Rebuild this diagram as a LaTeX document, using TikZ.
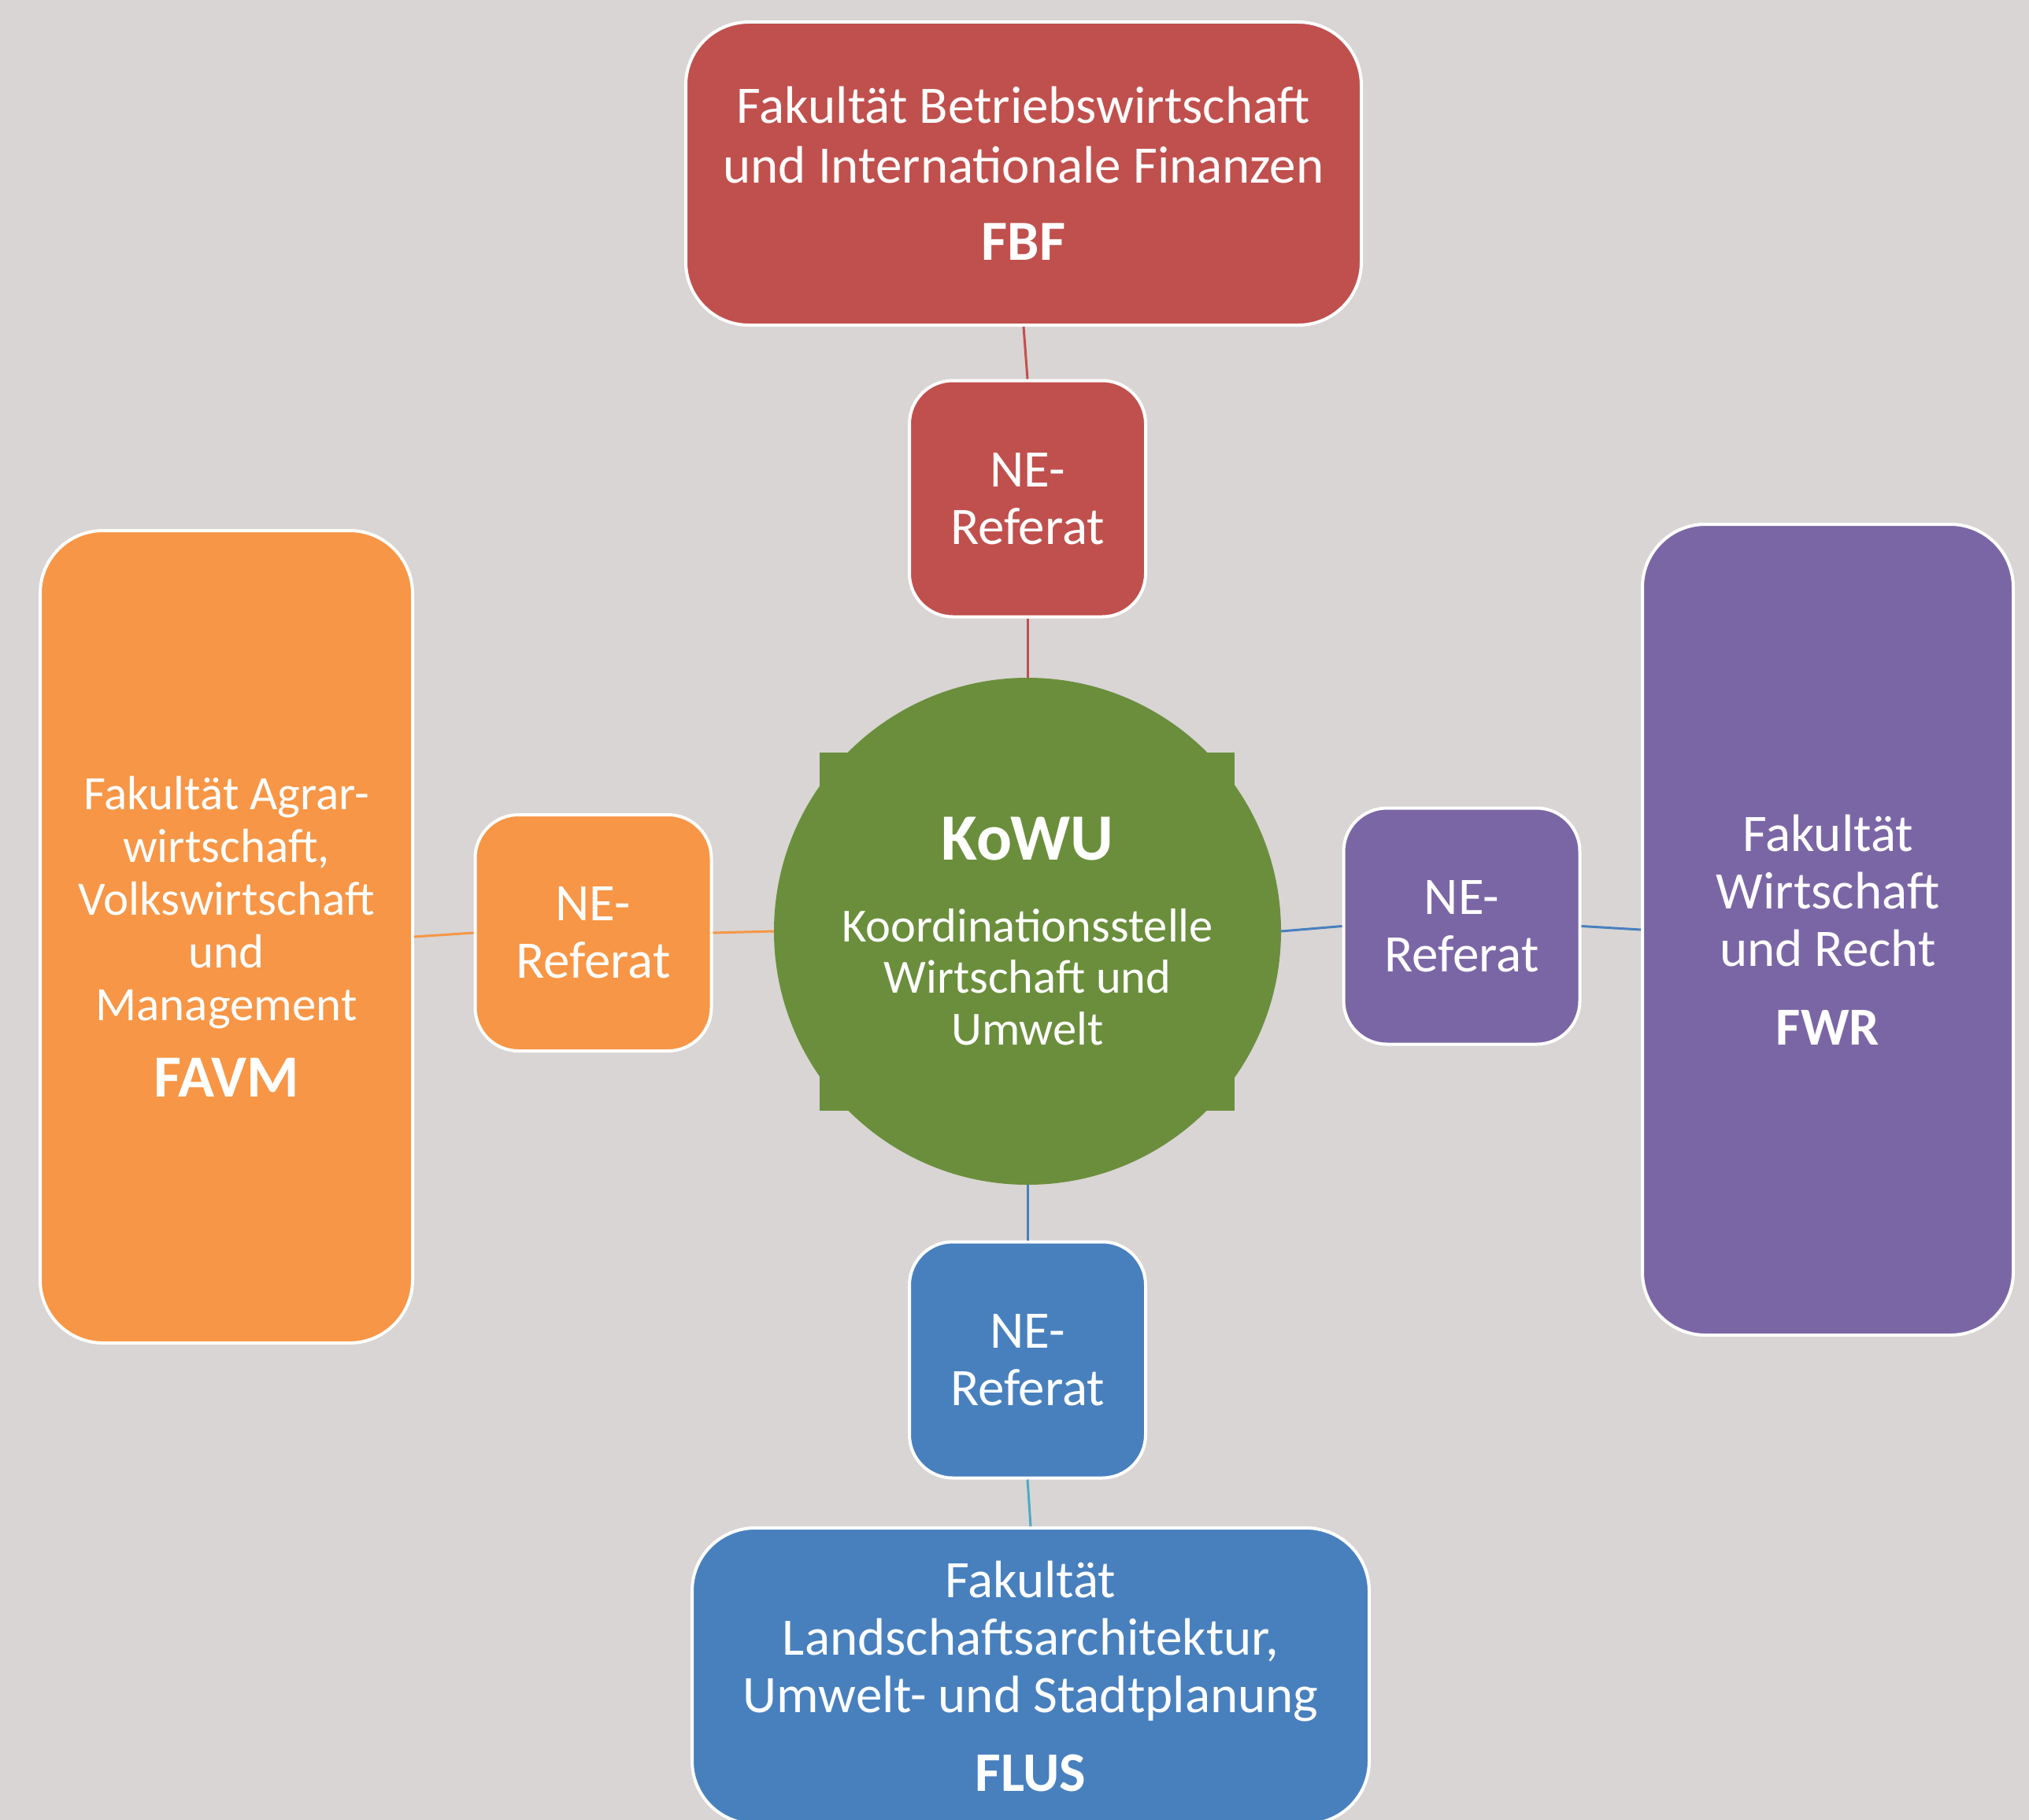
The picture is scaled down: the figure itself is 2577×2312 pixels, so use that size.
\documentclass[tikz,border=0pt]{standalone}
\usepackage{fontspec}
\setmainfont{Carlito}
\definecolor{bgc}{HTML}{D8D5D4}
\definecolor{cred}{HTML}{C0504D}
\definecolor{corange}{HTML}{F79646}
\definecolor{cpurple}{HTML}{7B66A5}
\definecolor{cblue}{HTML}{4880BE}
\definecolor{cgreen}{HTML}{6B8E3C}
\definecolor{cteal}{HTML}{4BACC6}
\begin{document}
\begin{tikzpicture}[x=1pt,y=-1pt,
  box/.style={draw=white, line width=4pt, text=white, align=center, inner sep=0pt, rectangle},
  fac/.style={box, rounded corners=80pt},
  ne/.style={box, rounded corners=55pt, minimum width=300pt, minimum height=300pt,
    font=\fontsize{67}{73}\selectfont},
  conn/.style={line width=3pt}]
\useasboundingbox (0,0) rectangle (2577,2312);
\fill[bgc] (0,0) rectangle (2577,2312);
\clip (0,0) rectangle (2577,2312);

% faculty boxes
\node[fac, fill=cred, minimum width=858pt, minimum height=385pt,
  font=\fontsize{67}{76}\selectfont] (fbf) at (1300,220.5)
  {Fakultät Betriebswirtschaft\\und Internationale Finanzen\\[22pt]{\fontsize{72}{72}\selectfont\textbf{FBF}}};
\node[fac, fill=corange, minimum width=473pt, minimum height=1032pt,
  font=\fontsize{61}{67}\selectfont] (favm) at (287.5,1190)
  {Fakultät Agrar-\\wirtschaft,\\Volkswirtschaft\\und\\Management\\[30pt]{\fontsize{76}{76}\selectfont\textbf{FAVM}}};
\node[fac, fill=cpurple, minimum width=471pt, minimum height=1030pt,
  font=\fontsize{67}{73}\selectfont] (fwr) at (2321.5,1181)
  {Fakultät\\Wirtschaft\\und Recht\\[27pt]{\fontsize{68}{68}\selectfont\textbf{FWR}}};
\node[fac, fill=cblue, minimum width=860pt, minimum height=376pt,
  font=\fontsize{67}{73}\selectfont] (flus) at (1309,2129)
  {Fakultät\\Landschaftsarchitektur,\\Umwelt- und Stadtplanung\\[27pt]{\fontsize{71}{71}\selectfont\textbf{FLUS}}};

% NE-Referat boxes
\node[ne, fill=cred] (netop) at (1305,633.5) {NE-\\Referat};
\node[ne, fill=corange] (neleft) at (753.5,1185) {NE-\\Referat};
\node[ne, fill=cpurple] (neright) at (1856.5,1176.5) {NE-\\Referat};
\node[ne, fill=cblue] (nebot) at (1305,1727.5) {NE-\\Referat};

% central KoWU
\fill[cgreen] (1041,956) rectangle (1568,1411);
\node[circle, fill=cgreen, minimum size=644pt, inner sep=0pt, text=white, align=center,
  font=\fontsize{60.5}{65.5}\selectfont] (kowu) at (1305,1183)
  {{\fontsize{84}{84}\selectfont\bfseries KoWU}\\[38pt]Koordinationsstelle\\Wirtschaft und\\Umwelt};

% connectors
\draw[conn, cred] (fbf.south) -- (netop.north);
\draw[conn, cred] (netop.south) -- (kowu.north);
\draw[conn, corange] (kowu.west) -- (neleft.east);
\draw[conn, corange] (neleft.west) -- (favm.east);
\draw[conn, cblue] (kowu.east) -- (neright.west);
\draw[conn, cblue] (neright.east) -- (fwr.west);
\draw[conn, cblue] (kowu.south) -- (nebot.north);
\draw[conn, cteal] (nebot.south) -- (flus.north);
\end{tikzpicture}
\end{document}
